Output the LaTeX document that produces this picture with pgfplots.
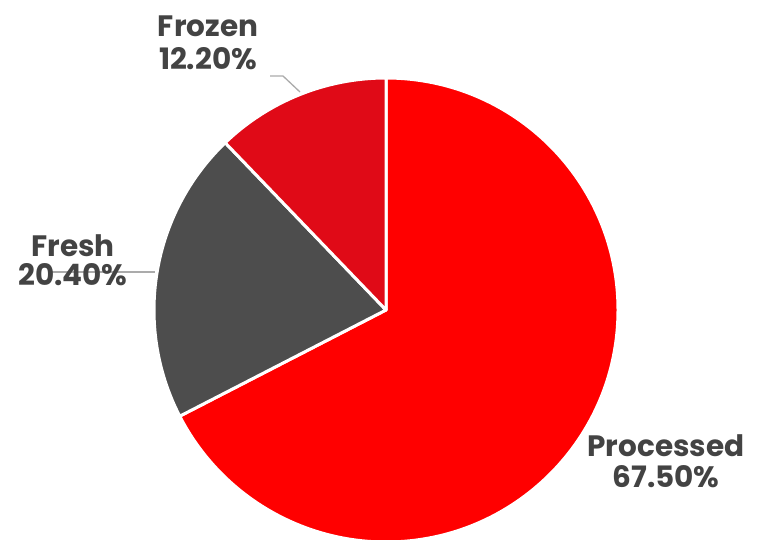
\documentclass[border=0pt]{standalone}
\usepackage{pgfplots}
\usepackage{pgfplotstable}
\pgfplotsset{compat=1.18}
\usepackage{fontspec}
\setmainfont{Poppins}
\definecolor{cProc}{HTML}{FF0000}
\definecolor{cFresh}{HTML}{4D4D4D}
\definecolor{cFroz}{HTML}{E00A17}
\definecolor{txt}{HTML}{434343}
\definecolor{lead}{HTML}{ABABAB}
\pgfplotstableread{
name value
Processed 67.5
Fresh 20.4
Frozen 12.2
}\piedata
\begin{document}
\begin{tikzpicture}
\useasboundingbox (0,0) rectangle (763pt,539pt);
\pgfplotstablegetelem{0}{value}\of\piedata \let\vA\pgfplotsretval
\pgfplotstablegetelem{1}{value}\of\piedata \let\vB\pgfplotsretval
\pgfplotstablegetelem{2}{value}\of\piedata \let\vC\pgfplotsretval
\pgfmathsetmacro\tot{\vA+\vB+\vC}
\pgfmathsetmacro\aA{90}
\pgfmathsetmacro\aB{\aA-\vA/\tot*360}
\pgfmathsetmacro\aC{\aB-\vB/\tot*360}
\pgfmathsetmacro\aD{\aC-\vC/\tot*360}
\begin{axis}[
  at={(0,0)}, anchor=south west,
  width=763pt, height=539pt, scale only axis,
  xmin=0, xmax=763, ymin=0, ymax=539,
  hide axis, clip mode=global,
]
\def\cx{386}\def\cy{229}\def\R{232pt}
\filldraw[fill=cProc, draw=white, line width=3pt, line join=round]
  (axis cs:\cx,\cy) -- ++(\aA:\R) arc[start angle=\aA, end angle=\aB, radius=\R] -- cycle;
\filldraw[fill=cFresh, draw=white, line width=3pt, line join=round]
  (axis cs:\cx,\cy) -- ++(\aB:\R) arc[start angle=\aB, end angle=\aC, radius=\R] -- cycle;
\filldraw[fill=cFroz, draw=white, line width=3pt, line join=round]
  (axis cs:\cx,\cy) -- ++(\aC:\R) arc[start angle=\aC, end angle=\aD, radius=\R] -- cycle;
\addplot[lead, line width=1.3pt, no marks] coordinates {(270,463) (283,463) (300,447)};
\addplot[lead, line width=1.3pt, no marks] coordinates {(52,267) (155,267)};
\begin{scope}[every node/.style={text=txt, font=\fontsize{29.5}{30}\selectfont\bfseries, anchor=base, inner sep=0pt}]
\node at (axis cs:208,502) {Frozen};
\node at (axis cs:208,469) {\pgfmathprintnumber[fixed,fixed zerofill,precision=2,assume math mode=true]{\vC}\%};
\node at (axis cs:73,283) {Fresh};
\node at (axis cs:73,254) {\pgfmathprintnumber[fixed,fixed zerofill,precision=2,assume math mode=true]{\vB}\%};
\node at (axis cs:666,83) {Processed};
\node at (axis cs:666,52) {\pgfmathprintnumber[fixed,fixed zerofill,precision=2,assume math mode=true]{\vA}\%};
\end{scope}
\end{axis}
\end{tikzpicture}
\end{document}
